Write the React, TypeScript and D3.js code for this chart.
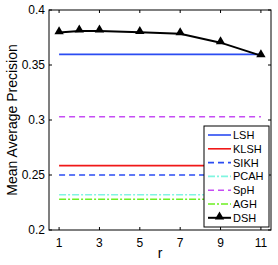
import React from 'react'
import * as d3 from 'd3'

const rValues = [1, 2, 3, 5, 7, 9, 11]
const dshMap = [0.3795, 0.381, 0.381, 0.3797, 0.3785, 0.3703, 0.3585]

const baselineNames = ['LSH', 'KLSH', 'SIKH', 'PCAH', 'SpH', 'AGH']
const baselineMap = [0.3597, 0.2585, 0.25, 0.232, 0.303, 0.228]
const baselineColors = ['#2b4cf2', '#f01818', '#2b4cf2', '#80f5e0', '#c64cf4', '#6cf020']
const baselineDash = ['', '', '6,4', '7,2,2,2', '6,4', '7,2,2,2']

const xTicks = [1, 3, 5, 7, 9, 11]
const yTicks = [0.2, 0.25, 0.3, 0.35, 0.4]

const W = 278
const H = 265
const m = { left: 49, right: 271, top: 10, bottom: 230 }

export default function App() {
  const x = d3.scaleLinear().domain([0.5, 11.5]).range([m.left, m.right])
  const y = d3.scaleLinear().domain([0.2, 0.4]).range([m.bottom, m.top])
  const line = d3
    .line<number>()
    .x((_, i) => x(rValues[i]))
    .y((d) => y(d))

  const tri = d3.symbol().type(d3.symbolTriangle).size(38)()

  const legendNames = [...baselineNames, 'DSH']
  const lx = 204
  const ly = 126
  const rowH = 13.8

  return (
    <svg width={W} height={H} style={{ position: 'absolute', left: 0, top: 0, fontFamily: 'Liberation Sans, Arial, sans-serif' }}>
      <rect width={W} height={H} fill="#fff" />
      {/* baselines */}
      {baselineMap.map((v, i) => (
        <line
          key={baselineNames[i]}
          x1={x(1)}
          x2={x(11)}
          y1={y(v)}
          y2={y(v)}
          stroke={baselineColors[i]}
          strokeWidth={1.6}
          strokeDasharray={baselineDash[i] || undefined}
        />
      ))}
      <path d={line(dshMap) || ''} fill="none" stroke="#000" strokeWidth={2} />
      {dshMap.map((v, i) => (
        <path key={i} d={tri || ''} transform={`translate(${x(rValues[i])},${y(v) - 1})`} fill="#000" />
      ))}
      {/* box */}
      <rect x={m.left} y={m.top} width={m.right - m.left} height={m.bottom - m.top} fill="none" stroke="#000" strokeWidth={1} />
      {xTicks.map((t) => (
        <g key={t}>
          <line x1={x(t)} x2={x(t)} y1={m.bottom} y2={m.bottom - 3} stroke="#000" />
          <line x1={x(t)} x2={x(t)} y1={m.top} y2={m.top + 3} stroke="#000" />
          <text x={x(t)} y={m.bottom + 17} textAnchor="middle" fontSize={12}>
            {t}
          </text>
        </g>
      ))}
      {yTicks.map((t) => (
        <g key={t}>
          <line x1={m.left} x2={m.left + 3} y1={y(t)} y2={y(t)} stroke="#000" />
          <line x1={m.right} x2={m.right - 3} y1={y(t)} y2={y(t)} stroke="#000" />
          <text x={m.left - 4} y={y(t) + 4} textAnchor="end" fontSize={12}>
            {t}
          </text>
        </g>
      ))}
      <text x={160} y={258} textAnchor="middle" fontSize={14}>
        r
      </text>
      <text transform={`translate(17,${(m.top + m.bottom) / 2}) rotate(-90)`} textAnchor="middle" fontSize={14}>
        Mean Average Precision
      </text>
      {/* legend */}
      <rect x={lx} y={ly} width={m.right - 2 - lx} height={101} fill="#fff" stroke="#000" strokeWidth={1} />
      {legendNames.map((n, i) => {
        const yy = ly + 9 + i * rowH
        const isDsh = i === baselineNames.length
        return (
          <g key={n}>
            <line
              x1={lx + 4}
              x2={lx + 27}
              y1={yy}
              y2={yy}
              stroke={isDsh ? '#000' : baselineColors[i]}
              strokeWidth={isDsh ? 2 : 1.6}
              strokeDasharray={isDsh ? undefined : baselineDash[i] || undefined}
            />
            {isDsh && <path d={tri || ''} transform={`translate(${lx + 15.5},${yy - 1})`} fill="#000" />}
            <text x={lx + 29} y={yy + 4} fontSize={11}>
              {n}
            </text>
          </g>
        )
      })}
    </svg>
  )
}
